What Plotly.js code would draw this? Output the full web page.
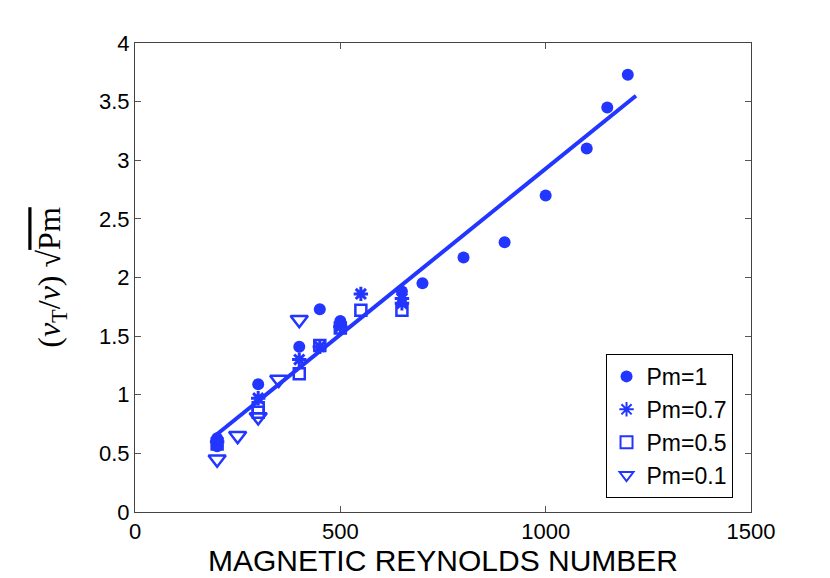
<!DOCTYPE html>
<html>
<head>
<meta charset="utf-8">
<script src="https://cdn.plot.ly/plotly-3.0.1.min.js"></script>
<style>
  html, body { margin: 0; padding: 0; background: #fff; }
  #plot { width: 830px; height: 578px; }
</style>
</head>
<body>
<div id="plot"></div>
<script>
'use strict';

// values
const pm1_x = [200, 200, 300, 400, 450, 500, 500, 650, 700, 800, 900, 1000, 1100, 1150, 1200];
const pm1_y = [0.63, 0.56, 1.09, 1.41, 1.73, 1.63, 1.60, 1.88, 1.95, 2.17, 2.30, 2.70, 3.10, 3.45, 3.73];

const pm07_x = [200, 300, 400, 450, 500, 550, 650, 650];
const pm07_y = [0.60, 0.97, 1.30, 1.41, 1.58, 1.86, 1.82, 1.78];

const pm05_x = [200, 300, 300, 400, 450, 500, 550, 650];
const pm05_y = [0.58, 0.89, 0.85, 1.18, 1.42, 1.57, 1.72, 1.72];

const pm01_x = [200, 250, 300, 350, 400];
const pm01_y = [0.45, 0.65, 0.81, 1.13, 1.64];

const fit_x = [195, 1220];
const fit_y = [0.65, 3.55];

const blue = '#2236ff';

const fit = {
    x: fit_x, y: fit_y, mode: 'lines', type: 'scatter', showlegend: false,
    line: { color: blue, width: 4 }, hoverinfo: 'skip'
};

const pm1 = {
    x: pm1_x, y: pm1_y, mode: 'markers', type: 'scatter', name: 'Pm=1',
    marker: { symbol: 'circle', size: 12, color: blue }
};

const pm07 = {
    x: pm07_x, y: pm07_y, mode: 'markers', type: 'scatter', name: 'Pm=0.7',
    marker: { symbol: 'asterisk-open', size: 12, color: blue, line: { color: blue, width: 3 } }
};

const pm05 = {
    x: pm05_x, y: pm05_y, mode: 'markers', type: 'scatter', name: 'Pm=0.5',
    marker: { symbol: 'square-open', size: 11, color: blue, line: { color: blue, width: 2.5 } }
};

const pm01 = {
    x: pm01_x, y: pm01_y, mode: 'markers', type: 'scatter', name: 'Pm=0.1',
    marker: { symbol: 'triangle-down-open', size: 15, color: blue, line: { color: blue, width: 2.5 } }
};

const sans = 'Liberation Sans, Arial, sans-serif';

const axisStyle = {
    showgrid: false, zeroline: false, showline: true, linecolor: '#444', linewidth: 1,
    mirror: 'ticks', ticks: 'inside', ticklen: 6, tickcolor: '#555',
    tickfont: { family: sans, size: 22, color: '#000' }
};

const layout = {
    width: 830, height: 578,
    margin: { l: 135, r: 79, t: 43, b: 66 },
    paper_bgcolor: '#fff', plot_bgcolor: '#fff',
    showlegend: true,
    xaxis: Object.assign({}, axisStyle, {
        range: [0, 1500], tickvals: [0, 500, 1000, 1500],
        title: { text: 'MAGNETIC REYNOLDS NUMBER', standoff: 2,
                 font: { family: sans, size: 30, color: '#000' } }
    }),
    yaxis: Object.assign({}, axisStyle, {
        range: [0, 4], tickvals: [0, 0.5, 1, 1.5, 2, 2.5, 3, 3.5, 4],
        ticktext: ['0', '0.5', '1', '1.5', '2', '2.5', '3', '3.5', '4'],
        title: { text: '(<i>ν</i><sub>T</sub>/<i>ν</i>) √<span style="text-decoration:overline">Pm</span>', standoff: 28,
                 font: { family: 'Liberation Serif, DejaVu Serif, serif', size: 32, color: '#000' } }
    }),
    legend: {
        x: 0.97, y: 0.03, xanchor: 'right', yanchor: 'bottom',
        bgcolor: '#fff', bordercolor: '#000', borderwidth: 1,
        font: { family: sans, size: 23, color: '#000' },
        itemsizing: 'constant', tracegroupgap: 0
    }
};

Plotly.newPlot('plot', [fit, pm1, pm07, pm05, pm01], layout, { staticPlot: true });
</script>
</body>
</html>
